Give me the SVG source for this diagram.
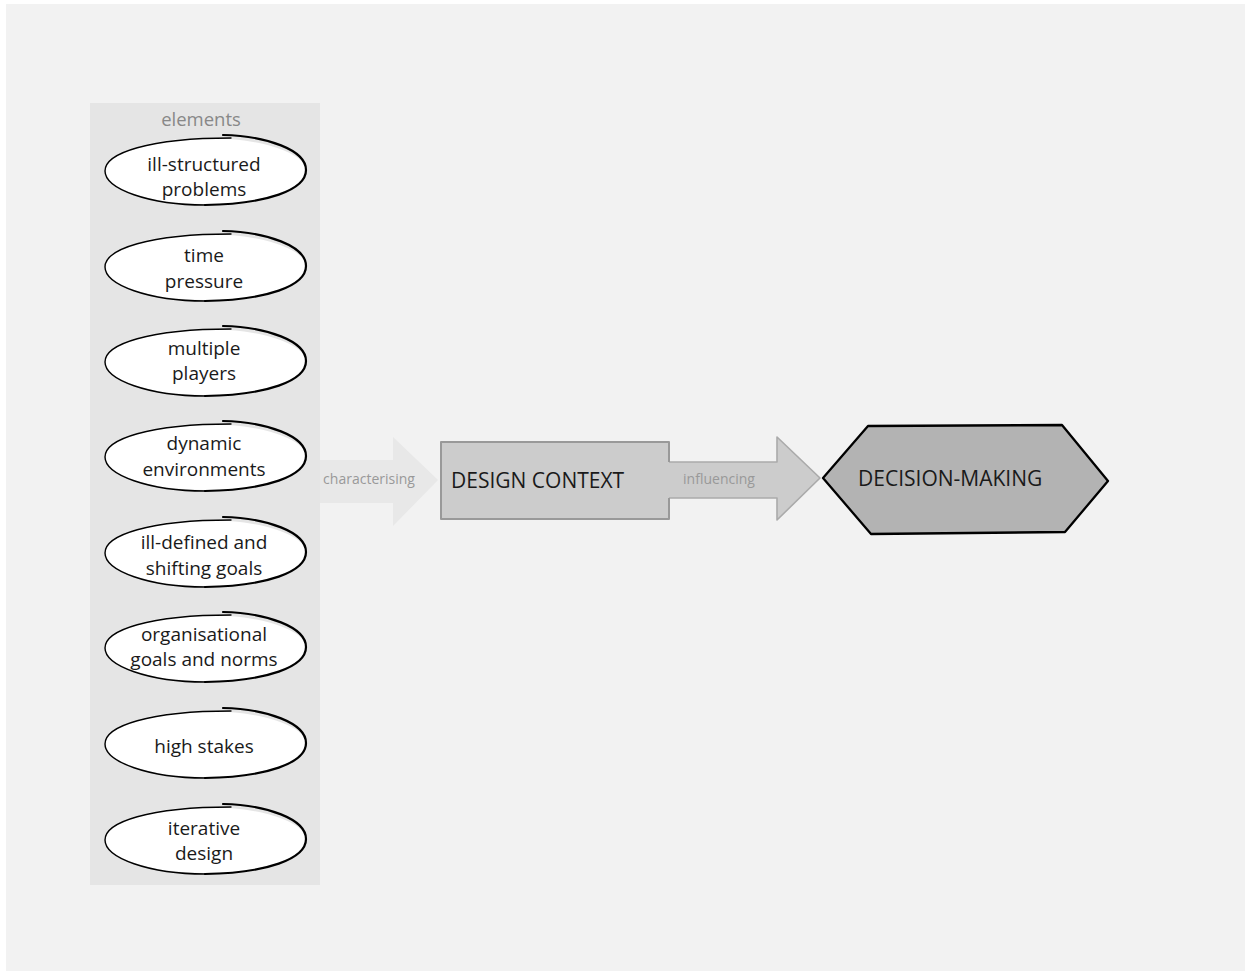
<svg xmlns="http://www.w3.org/2000/svg" xmlns:xlink="http://www.w3.org/1999/xlink" width="1245" height="971" viewBox="0 0 1245 971">
  <style>
    .lbl { font-family: "Open Sans", "Liberation Sans", sans-serif; font-size: 19px; fill: #1a1a1a; text-anchor: middle; }
    .soft { font-family: "Open Sans", "Liberation Sans", sans-serif; font-size: 14px; fill: #999999; text-anchor: middle; }
    .head { font-family: "Open Sans", "Liberation Sans", sans-serif; font-size: 21px; fill: #1a1a1a; }
    .ink { fill: none; stroke: #000; stroke-linecap: round; stroke-linejoin: round; }
  </style>
  <defs>
    <!-- hand-drawn oval: white fill, one looping stroke that overlaps at the top -->
    <g id="oval">
      <ellipse cx="1" cy="0" rx="100" ry="33" fill="#ffffff"/>
      <path class="ink" stroke-width="2.2" d="M18,-36 C62,-35 101,-21 101,-1 C101,19 62,33 0,34"/>
      <path class="ink" stroke-width="1.4" d="M0,34 C-56,34 -100,18 -100,0 C-100,-18 -56,-33 26,-33"/>
    </g>
  </defs>

  <!-- page -->
  <rect x="0" y="0" width="1245" height="971" fill="#ffffff"/>
  <rect x="6" y="4" width="1239" height="967" fill="#f2f2f2"/>

  <!-- elements panel -->
  <g id="elements">
    <rect x="90" y="103" width="230" height="782" fill="#e5e5e5"/>
    <text x="201" y="126" font-family="Open Sans, Liberation Sans, sans-serif" font-size="18.5" fill="#888888" text-anchor="middle">elements</text>
  </g>

  <g id="el-ill-structured">
    <use xlink:href="#oval" x="205" y="171"/>
    <text class="lbl" x="204" y="171">ill-structured</text>
    <text class="lbl" x="204" y="196">problems</text>
  </g>
  <g id="el-time-pressure">
    <use xlink:href="#oval" x="205" y="267"/>
    <text class="lbl" x="204" y="262">time</text>
    <text class="lbl" x="204" y="288">pressure</text>
  </g>
  <g id="el-multiple-players">
    <use xlink:href="#oval" x="205" y="362"/>
    <text class="lbl" x="204" y="355">multiple</text>
    <text class="lbl" x="204" y="380">players</text>
  </g>
  <g id="el-dynamic">
    <use xlink:href="#oval" x="205" y="457"/>
    <text class="lbl" x="204" y="450">dynamic</text>
    <text class="lbl" x="204" y="476">environments</text>
  </g>
  <g id="el-goals">
    <use xlink:href="#oval" x="205" y="553"/>
    <text class="lbl" x="204" y="549">ill-defined and</text>
    <text class="lbl" x="204" y="575">shifting goals</text>
  </g>
  <g id="el-organisational">
    <use xlink:href="#oval" x="205" y="648"/>
    <text class="lbl" x="204" y="641">organisational</text>
    <text class="lbl" x="204" y="666">goals and norms</text>
  </g>
  <g id="el-high-stakes">
    <use xlink:href="#oval" x="205" y="744"/>
    <text class="lbl" x="204" y="753">high stakes</text>
  </g>
  <g id="el-iterative">
    <use xlink:href="#oval" x="205" y="840"/>
    <text class="lbl" x="204" y="835">iterative</text>
    <text class="lbl" x="204" y="860">design</text>
  </g>

  <!-- connectors -->
  <g id="connectors">
    <!-- characterising: elements -> design context -->
    <polygon points="320,460 393,460 393,437 438,480 393,526 393,503 320,503" fill="#e8e8e8"/>
    <text class="soft" x="369" y="484">characterising</text>
    <!-- influencing: design context -> decision-making -->
    <polygon points="668,462 777,462 777,437 820,478 777,520 777,498 668,498" fill="#cccccc"/>
    <path d="M669,462 H777 V437 L820,478 L777,520 V498 H669" fill="none" stroke="#aaaaaa" stroke-width="1.6" stroke-linejoin="round"/>
    <text class="soft" x="719" y="484">influencing</text>
  </g>

  <!-- design context -->
  <g id="design-context">
    <rect x="441" y="442" width="228" height="77" fill="#cccccc"/>
    <path d="M669,462 V442 H441 V519 H669 V498" fill="none" stroke="#999999" stroke-width="2" stroke-linejoin="round"/>
    <text class="head" x="451" y="488">DESIGN CONTEXT</text>
  </g>

  <!-- decision-making -->
  <g id="decision-making">
    <polygon points="823,478 868,426 1062,425 1108,481 1065,532 871,534" fill="#b3b3b3" stroke="#000" stroke-width="2.3" stroke-linejoin="round"/>
    <text class="head" x="858" y="486">DECISION-MAKING</text>
  </g>
</svg>
